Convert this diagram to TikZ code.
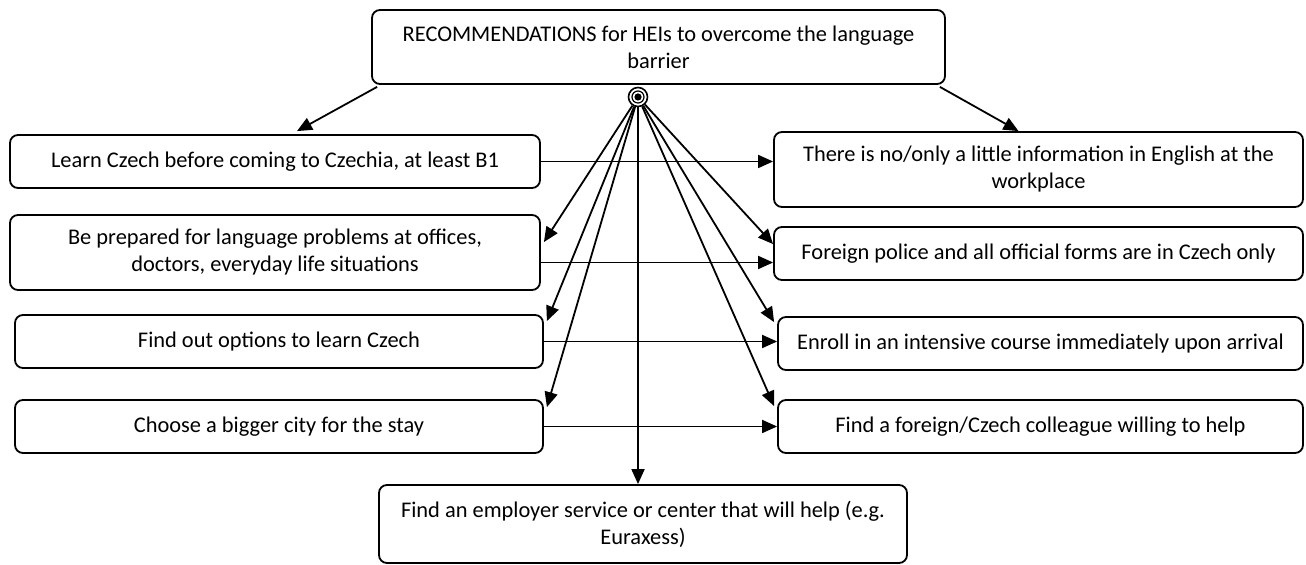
\documentclass[tikz,border=0pt]{standalone}
\usepackage{fontspec}
\setmainfont{Carlito}
\usepackage{tikz}
\usetikzlibrary{arrows.meta,positioning,calc}
\tikzset{
block/.style = {draw, fill=white, rectangle, rounded corners=4pt, line width=0.9pt, align = center, minimum width=265pt, minimum height=26.5pt, inner sep=2pt, font=\fontsize{11.2}{13.5}\selectfont},
hubnode/.style = {draw, fill=white, circle, line width=0.8pt, minimum size=9.5pt, inner sep=0pt},
link/.style = {->, line width=0.9pt}
}

\begin{document}
\begin{tikzpicture}[x=0.5pt, y=-0.5pt, >={Triangle[length=7.5pt,width=6.5pt]}]
    \useasboundingbox (0,0) rectangle (1306,565);
    \node [block, minimum width=286.5pt, minimum height=37pt] (rec) at (658.5,47)
       {RECOMMENDATIONS for HEIs to overcome the language\\barrier};
    \node [hubnode] (hub) at (638,97) {};
    \draw [line width=0.6pt] (hub) circle (3pt);
    \fill (hub) circle (1.8pt);

    \node [block] (learn) at (275,161.5) {Learn Czech before coming to Czechia, at least B1};
    \node [block, below of = learn, node distance = 45.5pt, minimum height=37.5pt] (prepared)
       {Be prepared for language problems at offices,\\doctors, everyday life situations};
    \node [block, below of = prepared, node distance = 44.5pt, xshift=2pt, minimum width=264pt] (options) {Find out options to learn Czech};
    \node [block, below of = options, node distance = 42.5pt, minimum width=264pt] (city) {Choose a bigger city for the stay};

    \node [block, minimum width=264.5pt, minimum height=37.5pt] (info) at (1038.5,169.5)
       {There is no/only a little information in English at the\\workplace};
    \node [block, below of = info, node distance = 42pt, minimum width=264.5pt] (police) {Foreign police and all official forms are in Czech only};
    \node [block, below of = police, node distance = 45pt, xshift=1pt, minimum width=262.5pt] (course) {Enroll in an intensive course immediately upon arrival};
    \node [block, below of = course, node distance = 41.5pt, minimum width=262.5pt] (colleague) {Find a foreign/Czech colleague willing to help};

    \node [block, minimum width=264pt, minimum height=39pt] (service) at (643,524)
       {Find an employer service or center that will help (e.g.\\Euraxess)};

    \draw [link] ($(rec.south west)+(6,2)$) -- ($(learn.north)+(22,-3)$);
    \draw [link] ($(rec.south east)+(-6,2)$) -- ($(info.north)+(-20,0)$);

    \draw [link] (hub) -- ($(prepared.north east)+(3,28)$);
    \draw [link] (hub) -- ($(options.north east)+(3,7)$);
    \draw [link] (hub) -- ($(city.north east)+(3,8)$);
    \draw [link] (hub) -- (hub |- service.north);
    \draw [link] (hub) -- ($(police.north west)+(0,18)$);
    \draw [link] (hub) -- ($(course.north west)+(-3,6)$);
    \draw [link] (hub) -- ($(colleague.north west)+(-3,7)$);

    \coordinate (p2) at ($(prepared.east)+(0,10)$);
    \draw [link] (learn.east) -- (learn.east -| info.west);
    \draw [link] (p2) -- (p2 -| police.west);
    \draw [link] (options.east) -- (options.east -| course.west);
    \draw [link] (city.east) -- (city.east -| colleague.west);
\end{tikzpicture}
\end{document}
